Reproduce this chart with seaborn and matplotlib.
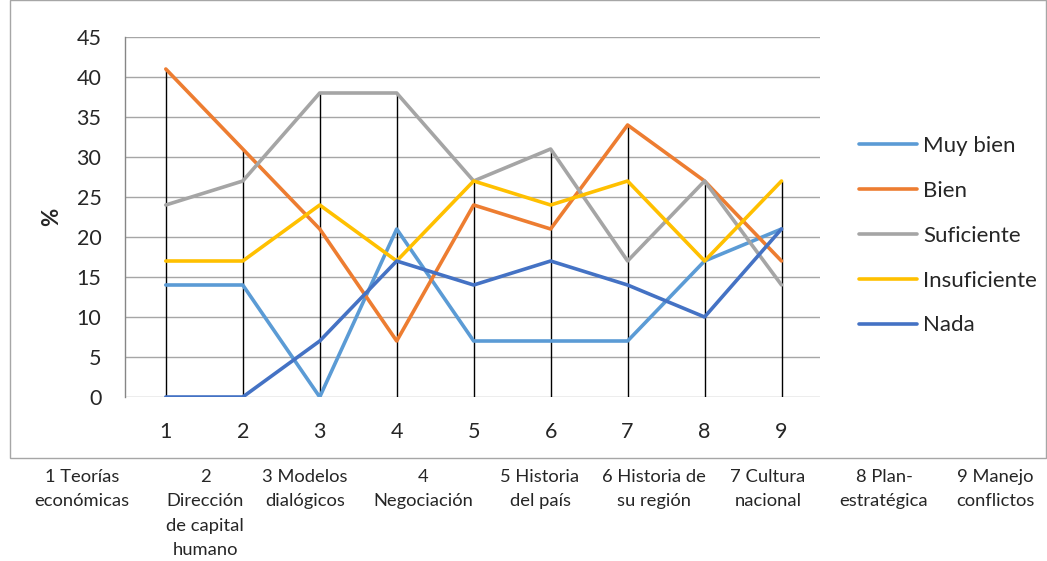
import pandas as pd
import numpy as np
import matplotlib
matplotlib.use("Agg")
import matplotlib.pyplot as plt
from matplotlib.patches import Rectangle
from matplotlib.lines import Line2D
import seaborn as sns

# datos
categorias = [1, 2, 3, 4, 5, 6, 7, 8, 9]
muy_bien = [14, 14, 0, 21, 7, 7, 7, 17, 21]
bien = [41, 31, 21, 7, 24, 21, 34, 27, 17]
suficiente = [24, 27, 38, 38, 27, 31, 17, 27, 14]
insuficiente = [17, 17, 24, 17, 27, 24, 27, 17, 27]
nada = [0, 0, 7, 17, 14, 17, 14, 10, 21]

series = ["Muy bien", "Bien", "Suficiente", "Insuficiente", "Nada"]
colores = ["#5B9BD5", "#ED7D31", "#A5A5A5", "#FFC000", "#4472C4"]

nombres = ["1 Teorías\neconómicas", "2\nDirección\nde capital\nhumano",
           "3 Modelos\ndialógicos", "4\nNegociación", "5 Historia\ndel país",
           "6 Historia de\nsu región", "7 Cultura\nnacional", "8 Plan-\nestratégica",
           "9 Manejo\nconflictos"]

df = pd.DataFrame({"cat": categorias, "Muy bien": muy_bien, "Bien": bien,
                   "Suficiente": suficiente, "Insuficiente": insuficiente, "Nada": nada})
largo = df.melt(id_vars="cat", var_name="serie", value_name="valor")

sns.set_style("white")
plt.rcParams['font.family'] = ['Lato', 'DejaVu Sans']

fig = plt.figure(figsize=(10.47, 5.61), dpi=100)
W, H = 1047, 561
ax = fig.add_axes([125 / W, 1 - 397 / H, (820 - 125) / W, (397 - 37) / H])

# marco del grafico
fig.patches.append(Rectangle((10 / W, 1 - 458 / H), (W - 11) / W, 458 / H,
                             transform=fig.transFigure, fill=False,
                             edgecolor="#A6A6A6", linewidth=1))

# lineas de caida (de 0 al maximo)
maximos = df[series].max(axis=1)
ax.vlines(df["cat"], 0, maximos, color="black", linewidth=1, zorder=1)

sns.lineplot(data=largo, x="cat", y="valor", hue="serie", hue_order=series,
             palette=colores, linewidth=2.6, ax=ax, zorder=3, legend=False)

ax.set_xlim(0.47, 9.5)
ax.set_ylim(0, 45)
ax.set_yticks(range(0, 50, 5))
ax.set_xticks(categorias)
ax.tick_params(axis="x", labelsize=15.5, length=0, pad=18)
ax.tick_params(axis="y", labelsize=15.5, length=7, width=1, color="#A6A6A6", pad=10)
ax.grid(axis="y", color="#A6A6A6", linewidth=1)
ax.set_axisbelow(True)
for s in ["top", "right", "bottom"]:
    ax.spines[s].set_visible(False)
ax.spines["left"].set_color("#868686")
ax.spines["left"].set_linewidth(1)
ax.set_xlabel("")
ax.set_ylabel("%", fontsize=16, fontweight="bold")
ax.yaxis.set_label_coords(-0.09, 0.5)

handles = [Line2D([0], [0], color=c, linewidth=2.6) for c in colores]
fig.legend(handles, series, loc="upper left", bbox_to_anchor=(850 / W, 1 - 127 / H),
           frameon=False, fontsize=16, handlelength=2.6, labelspacing=1.12,
           handletextpad=0.3, borderaxespad=0)

# tabla de nombres debajo del grafico
xs = [82, 205, 305, 423, 540, 654, 768, 884, 995]
for x, t in zip(xs, nombres):
    fig.text(x / W, 1 - 469 / H, t, ha="center", va="top", fontsize=13.2,
             linespacing=1.65)

fig.savefig("out.png", dpi=100)
